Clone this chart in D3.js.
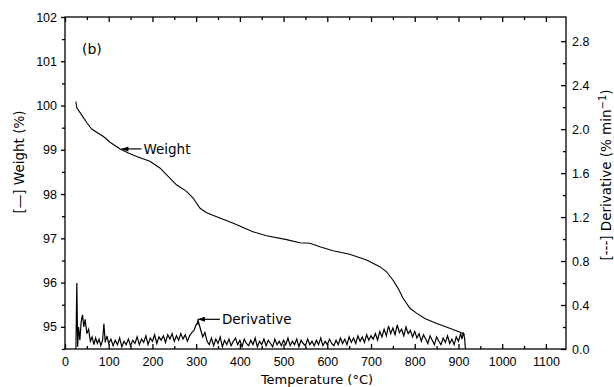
<!DOCTYPE html>
<html>
<head>
<meta charset="utf-8">
<script src="https://cdn.jsdelivr.net/npm/d3@7"></script>
<style>
  body { margin: 0; background: #fff; }
  svg { display: block; font-family: "DejaVu Sans", sans-serif; }
  .axis path, .axis line { stroke: #000; stroke-width: 1.3; }
  .axis text { font-size: 12.5px; fill: #000; }
</style>
</head>
<body>
<svg width="614" height="387"></svg>
<script>
// weight curve
var weightT = [25, 27, 38, 50, 61, 75, 88, 103, 126, 145, 164, 194, 217, 232, 255, 278, 293, 309, 324, 354,
               385, 430, 461, 507, 537, 560, 583, 613, 651, 690, 720, 735, 750, 762, 773, 789, 804, 823, 849, 880, 911, 914];
var weightW = [100.09, 99.95, 99.79, 99.61, 99.47, 99.38, 99.30, 99.17, 99.02, 98.93, 98.85, 98.74, 98.59, 98.44, 98.21, 98.06, 97.91, 97.68, 97.58, 97.46,
               97.34, 97.15, 97.06, 96.97, 96.90, 96.89, 96.81, 96.72, 96.64, 96.51, 96.36, 96.25, 96.06, 95.87, 95.65, 95.42, 95.31, 95.19, 95.08, 94.97, 94.85, 94.82];

// derivative trace (% / min), [temperature, value]
var derivative = [
  [25, 0.00], [27, 0.60], [29, 0.02], [31, 0.20], [34, 0.08], [37, 0.25], [40, 0.31], [43, 0.20], [46, 0.27], [50, 0.14],
  [54, 0.18], [58, 0.07], [62, 0.11], [66, 0.04], [70, 0.10], [74, 0.05], [78, 0.09], [82, 0.03], [86, 0.08], [89, 0.23],
  [92, 0.06], [96, 0.12], [100, 0.05], [105, 0.09], [110, 0.03], [115, 0.08], [120, 0.04], [125, 0.10], [130, 0.02], [135, 0.07],
  [140, 0.04], [145, 0.09], [150, 0.03], [155, 0.08], [160, 0.05], [165, 0.11], [170, 0.04], [175, 0.09], [180, 0.06], [185, 0.12],
  [190, 0.04], [195, 0.10], [200, 0.07], [205, 0.13], [210, 0.05], [215, 0.11], [220, 0.08], [225, 0.12], [230, 0.06], [235, 0.13],
  [240, 0.09], [245, 0.14], [250, 0.07], [255, 0.12], [260, 0.08], [265, 0.14], [270, 0.09], [275, 0.13], [280, 0.07], [285, 0.12],
  [290, 0.15], [295, 0.17], [300, 0.22], [305, 0.25], [310, 0.18], [315, 0.11], [320, 0.15], [325, 0.07], [330, 0.04], [335, 0.10],
  [340, 0.03], [345, 0.09], [350, 0.05], [355, 0.11], [360, 0.02], [365, 0.08], [370, 0.04], [375, 0.09], [380, 0.03], [385, 0.07],
  [390, 0.10], [395, 0.04], [400, 0.08], [405, 0.02], [410, 0.09], [415, 0.05], [420, 0.03], [425, 0.08], [430, 0.04], [435, 0.10],
  [440, 0.02], [445, 0.07], [450, 0.04], [455, 0.09], [460, 0.03], [465, 0.08], [470, 0.05], [475, 0.02], [480, 0.09], [485, 0.04],
  [490, 0.07], [495, 0.03], [500, 0.08], [505, 0.04], [510, 0.10], [515, 0.03], [520, 0.07], [525, 0.04], [530, 0.09], [535, 0.02],
  [540, 0.08], [545, 0.05], [550, 0.03], [555, 0.09], [560, 0.04], [565, 0.07], [570, 0.03], [575, 0.08], [580, 0.04], [585, 0.10],
  [590, 0.03], [595, 0.07], [600, 0.04], [605, 0.09], [610, 0.05], [615, 0.03], [620, 0.08], [625, 0.04], [630, 0.10], [635, 0.05],
  [640, 0.09], [645, 0.04], [650, 0.11], [655, 0.06], [660, 0.10], [665, 0.05], [670, 0.12], [675, 0.07], [680, 0.11], [685, 0.06],
  [690, 0.13], [695, 0.08], [700, 0.12], [705, 0.09], [710, 0.14], [715, 0.08], [720, 0.16], [725, 0.11], [730, 0.18], [735, 0.12],
  [740, 0.21], [745, 0.14], [750, 0.19], [755, 0.13], [760, 0.22], [765, 0.15], [770, 0.18], [775, 0.12], [780, 0.20], [785, 0.14],
  [790, 0.17], [795, 0.11], [800, 0.16], [805, 0.10], [810, 0.14], [815, 0.07], [820, 0.13], [825, 0.09], [830, 0.05], [835, 0.12],
  [840, 0.08], [845, 0.04], [850, 0.11], [855, 0.07], [860, 0.04], [865, 0.10], [870, 0.06], [875, 0.12], [880, 0.05], [885, 0.09],
  [890, 0.04], [895, 0.11], [900, 0.07], [905, 0.14], [908, 0.09], [911, 0.15], [914, 0.10], [916, 0.00]
];

var xTicks = [0, 100, 200, 300, 400, 500, 600, 700, 800, 900, 1000, 1100];
var weightTicks = [95, 96, 97, 98, 99, 100, 101, 102];
var derivTicks = [0.0, 0.4, 0.8, 1.2, 1.6, 2.0, 2.4, 2.8];

var svg = d3.select("svg"),
    margin = { top: 17, right: 48, bottom: 38, left: 65 },
    width = 614 - margin.left - margin.right,
    height = 387 - margin.top - margin.bottom;

var g = svg.append("g").attr("transform", "translate(" + margin.left + "," + margin.top + ")");

var x = d3.scaleLinear().domain([0, 1146]).range([0, width]);
var yW = d3.scaleLinear().domain([94.5, 102]).range([height, 0]);
var yD = d3.scaleLinear().domain([0, 3.02]).range([height, 0]);

// frame
g.append("rect").attr("width", width).attr("height", height)
    .attr("fill", "none").attr("stroke", "#000").attr("stroke-width", 1.3);

// minor ticks
var minorX = d3.range(50, 1146, 100);
g.append("g").attr("class", "axis").attr("transform", "translate(0," + height + ")")
    .call(d3.axisBottom(x).tickValues(minorX).tickSize(-3).tickFormat(""))
    .call(function(s) { s.select(".domain").remove(); });
g.append("g").attr("class", "axis")
    .call(d3.axisTop(x).tickValues(minorX).tickSize(-3).tickFormat(""))
    .call(function(s) { s.select(".domain").remove(); });
g.append("g").attr("class", "axis")
    .call(d3.axisLeft(yW).tickValues(d3.range(94.5, 102, 1)).tickSize(3).tickFormat(""))
    .call(function(s) { s.select(".domain").remove(); });
g.append("g").attr("class", "axis").attr("transform", "translate(" + width + ",0)")
    .call(d3.axisRight(yD).tickValues(d3.range(0.2, 3.0, 0.4)).tickSize(-3).tickFormat(""))
    .call(function(s) { s.select(".domain").remove(); });

// major ticks
g.append("g").attr("class", "axis").attr("transform", "translate(0," + height + ")")
    .call(d3.axisBottom(x).tickValues(xTicks).tickSize(-5).tickPadding(8).tickFormat(d3.format("d")))
    .call(function(s) { s.select(".domain").remove(); });
g.append("g").attr("class", "axis")
    .call(d3.axisTop(x).tickValues(xTicks).tickSize(-5).tickFormat(""))
    .call(function(s) { s.select(".domain").remove(); });
g.append("g").attr("class", "axis")
    .call(d3.axisLeft(yW).tickValues(weightTicks).tickSize(4).tickPadding(4).tickFormat(d3.format("d")))
    .call(function(s) { s.select(".domain").remove(); });
g.append("g").attr("class", "axis").attr("transform", "translate(" + width + ",0)")
    .call(d3.axisRight(yD).tickValues(derivTicks).tickSize(-5).tickPadding(6).tickFormat(d3.format(".1f")))
    .call(function(s) { s.select(".domain").remove(); });

// curves
var weightLine = d3.line()
    .x(function(d, i) { return x(weightT[i]); })
    .y(function(d) { return yW(d); });
g.append("path").datum(weightW)
    .attr("d", weightLine)
    .attr("fill", "none").attr("stroke", "#000").attr("stroke-width", 1.1);

var derivLine = d3.line()
    .x(function(d) { return x(d[0]); })
    .y(function(d) { return yD(d[1]); });
g.append("path").datum(derivative)
    .attr("d", derivLine)
    .attr("fill", "none").attr("stroke", "#000").attr("stroke-width", 1.2);

// annotations
g.append("text").attr("x", 17).attr("y", 37)
    .attr("font-size", 14).text("(b)");

function pointer(tx, ty, len, label) {
  var px = x(tx), py = ty;
  g.append("line").attr("x1", px).attr("y1", py).attr("x2", px + len).attr("y2", py)
      .attr("stroke", "#000").attr("stroke-width", 1.2);
  g.append("path")
      .attr("d", "M" + px + "," + py + "l7,-2.5l0,5z")
      .attr("fill", "#000");
  g.append("text").attr("x", px + len + 2).attr("y", py + 5)
      .attr("font-size", 13.5).text(label);
}
pointer(129, yW(99.02), 20, "Weight");

// derivative pointer has a short drop to the trace
var dx = x(304);
g.append("line").attr("x1", dx).attr("y1", yD(0.27)).attr("x2", dx).attr("y2", yD(0.22))
    .attr("stroke", "#000").attr("stroke-width", 1.2);
pointer(304, yD(0.27), 22, "Derivative");

// axis titles
svg.append("text").attr("x", 317).attr("y", 384)
    .attr("text-anchor", "middle").attr("font-size", 13).text("Temperature (°C)");

svg.append("text").attr("transform", "translate(24,162) rotate(-90)")
    .attr("text-anchor", "middle").attr("font-size", 13.5).text("[—] Weight (%)");

var rt = svg.append("text").attr("transform", "translate(611,175) rotate(-90)")
    .attr("text-anchor", "middle").attr("font-size", 13.5);
rt.append("tspan").text("[---] Derivative (% min");
rt.append("tspan").attr("dy", -5).attr("font-size", 10).text("−1");
rt.append("tspan").attr("dy", 5).text(")");
</script>
</body>
</html>
